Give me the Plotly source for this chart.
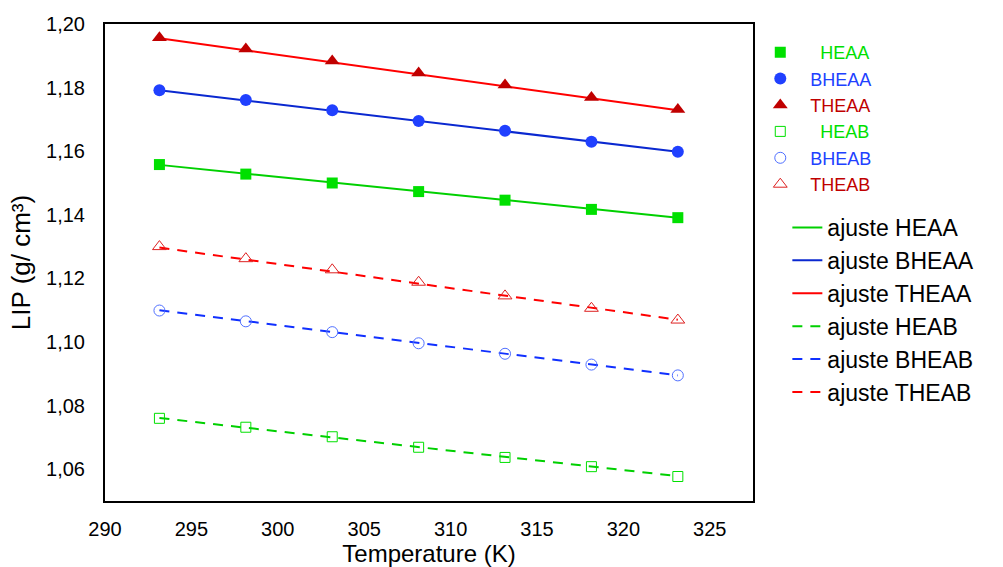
import plotly.graph_objects as go

# ---- data ----
temperature = [293.15, 298.15, 303.15, 308.15, 313.15, 318.15, 323.15]
HEAA = [1.1558, 1.1528, 1.1500, 1.1473, 1.1446, 1.1417, 1.1391]
BHEAA = [1.1792, 1.1761, 1.1729, 1.1695, 1.1664, 1.1630, 1.1598]
THEAA = [1.1957, 1.1921, 1.1884, 1.1846, 1.1808, 1.1769, 1.1731]
HEAB = [1.0760, 1.0732, 1.0702, 1.0669, 1.0637, 1.0608, 1.0577]
BHEAB = [1.1099, 1.1065, 1.1031, 1.0996, 1.0963, 1.0929, 1.0895]
THEAB = [1.1300, 1.1262, 1.1227, 1.1188, 1.1145, 1.1106, 1.1069]

# fitted lines (end points)
fit_T = [293.15, 323.15]
fit_HEAA = [1.1557, 1.1391]
fit_BHEAA = [1.1792, 1.1598]
fit_THEAA = [1.1955, 1.1729]
fit_HEAB = [1.0761, 1.0578]
fit_BHEAB = [1.1100, 1.0895]
fit_THEAB = [1.1297, 1.1070]

x_ticks = [290, 295, 300, 305, 310, 315, 320, 325]
y_ticks = [1.06, 1.08, 1.10, 1.12, 1.14, 1.16, 1.18, 1.20]

FONT = "Liberation Sans, Arial, sans-serif"
GREEN = "#00e000"
BLUE = "#2040ff"
DRED = "#c00000"
NB = "\u00a0"

fig = go.Figure()

# fitted lines (second legend)
fits = [
    ("ajuste HEAA", fit_HEAA, "#00d000", "solid"),
    ("ajuste BHEAA", fit_BHEAA, "#0a28d0", "solid"),
    ("ajuste THEAA", fit_THEAA, "#ff0000", "solid"),
    ("ajuste HEAB", fit_HEAB, "#00d000", "10px,8px"),
    ("ajuste BHEAB", fit_BHEAB, "#1030ff", "10px,8px"),
    ("ajuste THEAB", fit_THEAB, "#ff0000", "10px,8px"),
]
for name, ys, col, dash in fits:
    fig.add_trace(go.Scatter(
        x=fit_T, y=ys, mode="lines", name=name, legend="legend2",
        line=dict(color=col, width=2, dash=dash),
    ))

# measured points (first legend)
pts = [
    ("HEAA", 4, HEAA, "square", GREEN, GREEN, 11, 0),
    ("BHEAA", 2, BHEAA, "circle", BLUE, BLUE, 12, 0),
    ("THEAA", 2, THEAA, "triangle-up", DRED, DRED, 13, 0),
    ("HEAB", 4, HEAB, "square-open", GREEN, GREEN, 10, 1),
    ("BHEAB", 2, BHEAB, "circle-open", "#5070ff", BLUE, 11, 1),
    ("THEAB", 2, THEAB, "triangle-up-open", "#dd2020", DRED, 12, 1),
]
for label, pad, ys, sym, mcol, tcol, size, lw in pts:
    name = NB * pad + f"<span style='color:{tcol}'>{label}</span>"
    fig.add_trace(go.Scatter(
        x=temperature, y=ys, mode="markers", name=name, legend="legend",
        marker=dict(symbol=sym, color=mcol, size=size,
                    line=dict(color=mcol, width=lw)),
    ))

fig.update_layout(
    width=1003, height=567,
    margin=dict(l=105, r=250, t=24, b=66, autoexpand=False),
    paper_bgcolor="white", plot_bgcolor="white",
    separators=", ",
    font=dict(family=FONT, size=20, color="black"),
    xaxis=dict(
        range=[290, 327.5], tickvals=x_ticks, ticktext=[str(v) for v in x_ticks],
        showgrid=False, zeroline=False, showline=True, linecolor="black",
        linewidth=2, mirror=True, ticks="", ticklabelstandoff=9,
        tickfont=dict(size=20), automargin=False,
        title=dict(text="Temperature (K)", font=dict(size=24), standoff=8),
    ),
    yaxis=dict(
        range=[1.05, 1.20], tickvals=y_ticks, tickformat=".2f",
        showgrid=False, zeroline=False, showline=True, linecolor="black",
        linewidth=2, mirror=True, ticks="", ticklabelstandoff=14,
        tickfont=dict(size=20), automargin=False,
        title=dict(text="LIP (g/ cm³)", font=dict(size=26), standoff=8),
    ),
    legend=dict(
        xref="container", yref="container", x=0.758, y=1 - 34 / 567,
        xanchor="left", yanchor="top", bgcolor="rgba(0,0,0,0)",
        font=dict(size=18), tracegroupgap=0,
    ),
    legend2=dict(
        xref="container", yref="container", x=0.785, y=1 - 206 / 567,
        xanchor="left", yanchor="top", bgcolor="rgba(0,0,0,0)",
        font=dict(size=23, color="black"), tracegroupgap=0,
    ),
    showlegend=True,
)

fig.write_html("out.html")
